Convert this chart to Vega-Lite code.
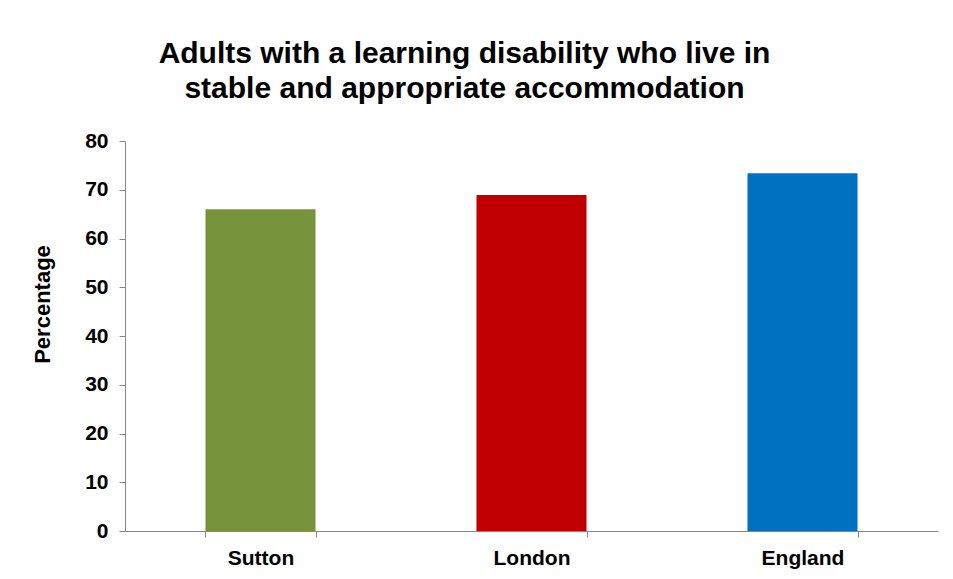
{
  "$schema": "https://vega.github.io/schema/vega-lite/v6.json",
  "autosize": "none",
  "width": 813,
  "height": 390,
  "padding": {"left": 125, "top": 141, "right": 15, "bottom": 48},
  "background": "white",
  "title": {
    "text": ["Adults with a learning disability who live in", "stable and appropriate accommodation"],
    "anchor": "middle",
    "frame": "group",
    "dx": -67,
    "dy": 40,
    "font": "Liberation Sans",
    "fontSize": 30,
    "fontWeight": "bold",
    "color": "#000000",
    "lineHeight": 35,
    "baseline": "bottom",
    "offset": 36
  },
  "data": {
    "values": [
      {"area": "Sutton", "percentage": 66.0},
      {"area": "London", "percentage": 68.9},
      {"area": "England", "percentage": 73.4}
    ]
  },
  "mark": {"type": "bar"},
  "encoding": {
    "x": {
      "field": "area",
      "type": "nominal",
      "sort": null,
      "scale": {"paddingInner": 0.594, "paddingOuter": 0.297},
      "axis": {
        "title": null,
        "labelAngle": 0,
        "tickBand": "extent",
        "labelFont": "Liberation Sans",
        "labelFontSize": 21,
        "labelFontWeight": "bold",
        "labelColor": "#000000",
        "labelPadding": 10,
        "domainColor": "#868686",
        "tickColor": "#868686",
        "tickSize": 6,
        "grid": false
      }
    },
    "y": {
      "field": "percentage",
      "type": "quantitative",
      "scale": {"domain": [0, 80], "nice": false},
      "axis": {
        "title": "Percentage",
        "values": [0, 10, 20, 30, 40, 50, 60, 70, 80],
        "grid": false,
        "labelFont": "Liberation Sans",
        "labelFontSize": 21,
        "labelFontWeight": "bold",
        "labelColor": "#000000",
        "labelPadding": 11,
        "titleFont": "Liberation Sans",
        "titleFontSize": 22,
        "titleFontWeight": "bold",
        "titleColor": "#000000",
        "titlePadding": 30,
        "titleY": 163,
        "titleAlign": "center",
        "domainColor": "#868686",
        "tickColor": "#868686",
        "tickSize": 6
      }
    },
    "color": {
      "field": "area",
      "type": "nominal",
      "scale": {"domain": ["Sutton", "London", "England"], "range": ["#77933C", "#C00000", "#0070C0"]},
      "legend": null
    }
  },
  "config": {"view": {"stroke": null}}
}
